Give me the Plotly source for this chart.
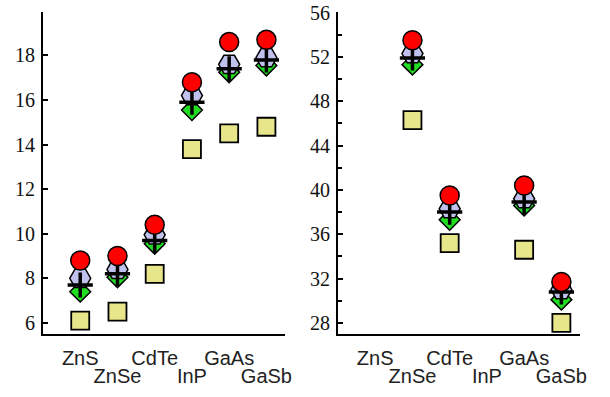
import plotly.graph_objects as go

categories = ["ZnS", "ZnSe", "CdTe", "InP", "GaAs", "GaSb"]

# Left panel series
left_circle = [8.8, 9.0, 10.4, 16.8, 18.6, 18.7]
left_hexagon = [8.0, 8.4, 9.95, 16.2, 17.6, 17.9]
left_cross = [7.7, 8.2, 9.7, 15.9, 17.4, 17.8]
left_diamond = [7.4, 8.05, 9.55, 15.55, 17.25, 17.55]
left_square = [6.1, 6.5, 8.2, 13.8, 14.5, 14.8]

# Right panel series
right_circle = [None, 53.5, 39.5, None, 40.4, 31.7]
right_hexagon = [None, 52.3, 38.3, None, 39.2, 31.0]
right_cross = [None, 51.9, 38.0, None, 38.9, 30.8]
right_diamond = [None, 51.3, 37.3, None, 38.6, 30.1]
right_square = [None, 46.3, 35.2, None, 34.6, 28.0]

left_ticks = [6, 8, 10, 12, 14, 16, 18]
right_ticks = [28, 32, 36, 40, 44, 48, 52, 56]
right_minor = [30, 34, 38, 42, 46, 50, 54]

styles = [
    ("square", "square", "#E8E68A", 18, 1.8),
    ("diamond", "diamond", "#22DD22", 16, 1.5),
    ("hexagon", "hexagon2", "#C0C2EE", 21, 1.5),
    ("cross", "cross-thin", "#000000", 18, 3.5),
    ("circle", "circle", "#FF0000", 19, 1.5),
]

left_data = {"square": left_square, "diamond": left_diamond, "hexagon": left_hexagon,
             "cross": left_cross, "circle": left_circle}
right_data = {"square": right_square, "diamond": right_diamond, "hexagon": right_hexagon,
              "cross": right_cross, "circle": right_circle}

fig = go.Figure()
for data, xa, ya in [(left_data, "x", "y"), (right_data, "x2", "y2")]:
    for key, sym, col, size, lw in styles:
        if sym == "cross-thin":
            marker = dict(symbol=sym, size=size, line=dict(color="black", width=lw))
        else:
            marker = dict(symbol=sym, size=size, color=col, line=dict(color="black", width=lw))
        fig.add_trace(go.Scatter(x=categories, y=data[key], mode="markers", marker=marker,
                                 xaxis=xa, yaxis=ya, showlegend=False, hoverinfo="skip",
                                 cliponaxis=False))

# invisible traces so the second-row label axes are drawn
for xa, ya in [("x3", "y"), ("x4", "y2")]:
    fig.add_trace(go.Scatter(x=categories, y=[None] * len(categories), mode="markers",
                             xaxis=xa, yaxis=ya, showlegend=False, hoverinfo="skip"))

row1 = categories[0::2]
row2 = categories[1::2]
xfont = dict(family="Liberation Sans", size=20, color="#222222")

base_x = dict(type="category", categoryorder="array", categoryarray=categories,
              range=[-1, 5.5], ticks="", tickfont=xfont, tickangle=0,
              automargin=False, showgrid=False, zeroline=False, fixedrange=True)

base_y = dict(ticks="inside", ticklen=5, tickwidth=1.5, tickcolor="black",
              showline=True, linecolor="black", linewidth=2, showgrid=False,
              zeroline=False, automargin=False, ticklabelstandoff=2,
              tickfont=dict(family="Liberation Serif", size=20, color="#111111"))

dom1 = [0, 0.4507]
dom2 = [0.5493, 1]

fig.update_layout(
    width=610, height=397,
    margin=dict(l=43, r=30, t=12, b=63),
    plot_bgcolor="white", paper_bgcolor="white",
    xaxis=dict(domain=dom1, anchor="y", showline=True, linecolor="black", linewidth=2,
               tickvals=row1, ticktext=row1, ticklabelstandoff=5, **base_x),
    xaxis2=dict(domain=dom2, anchor="y2", showline=True, linecolor="black", linewidth=2,
                tickvals=row1, ticktext=row1, ticklabelstandoff=5, **base_x),
    xaxis3=dict(domain=dom1, anchor="y", overlaying="x", showline=False,
                tickvals=row2, ticktext=row2, ticklabelstandoff=28, **base_x),
    xaxis4=dict(domain=dom2, anchor="y2", overlaying="x2", showline=False,
                tickvals=row2, ticktext=row2, ticklabelstandoff=28, **base_x),
    yaxis=dict(range=[5.5, 19.95], tickvals=left_ticks, anchor="x", **base_y),
    yaxis2=dict(range=[27.0, 56.05], tickvals=right_ticks, anchor="x2",
                minor=dict(tickvals=right_minor, ticks="inside", ticklen=4,
                           tickwidth=1.5, tickcolor="black", showgrid=False),
                **base_y),
)

fig.write_html("out.html")
